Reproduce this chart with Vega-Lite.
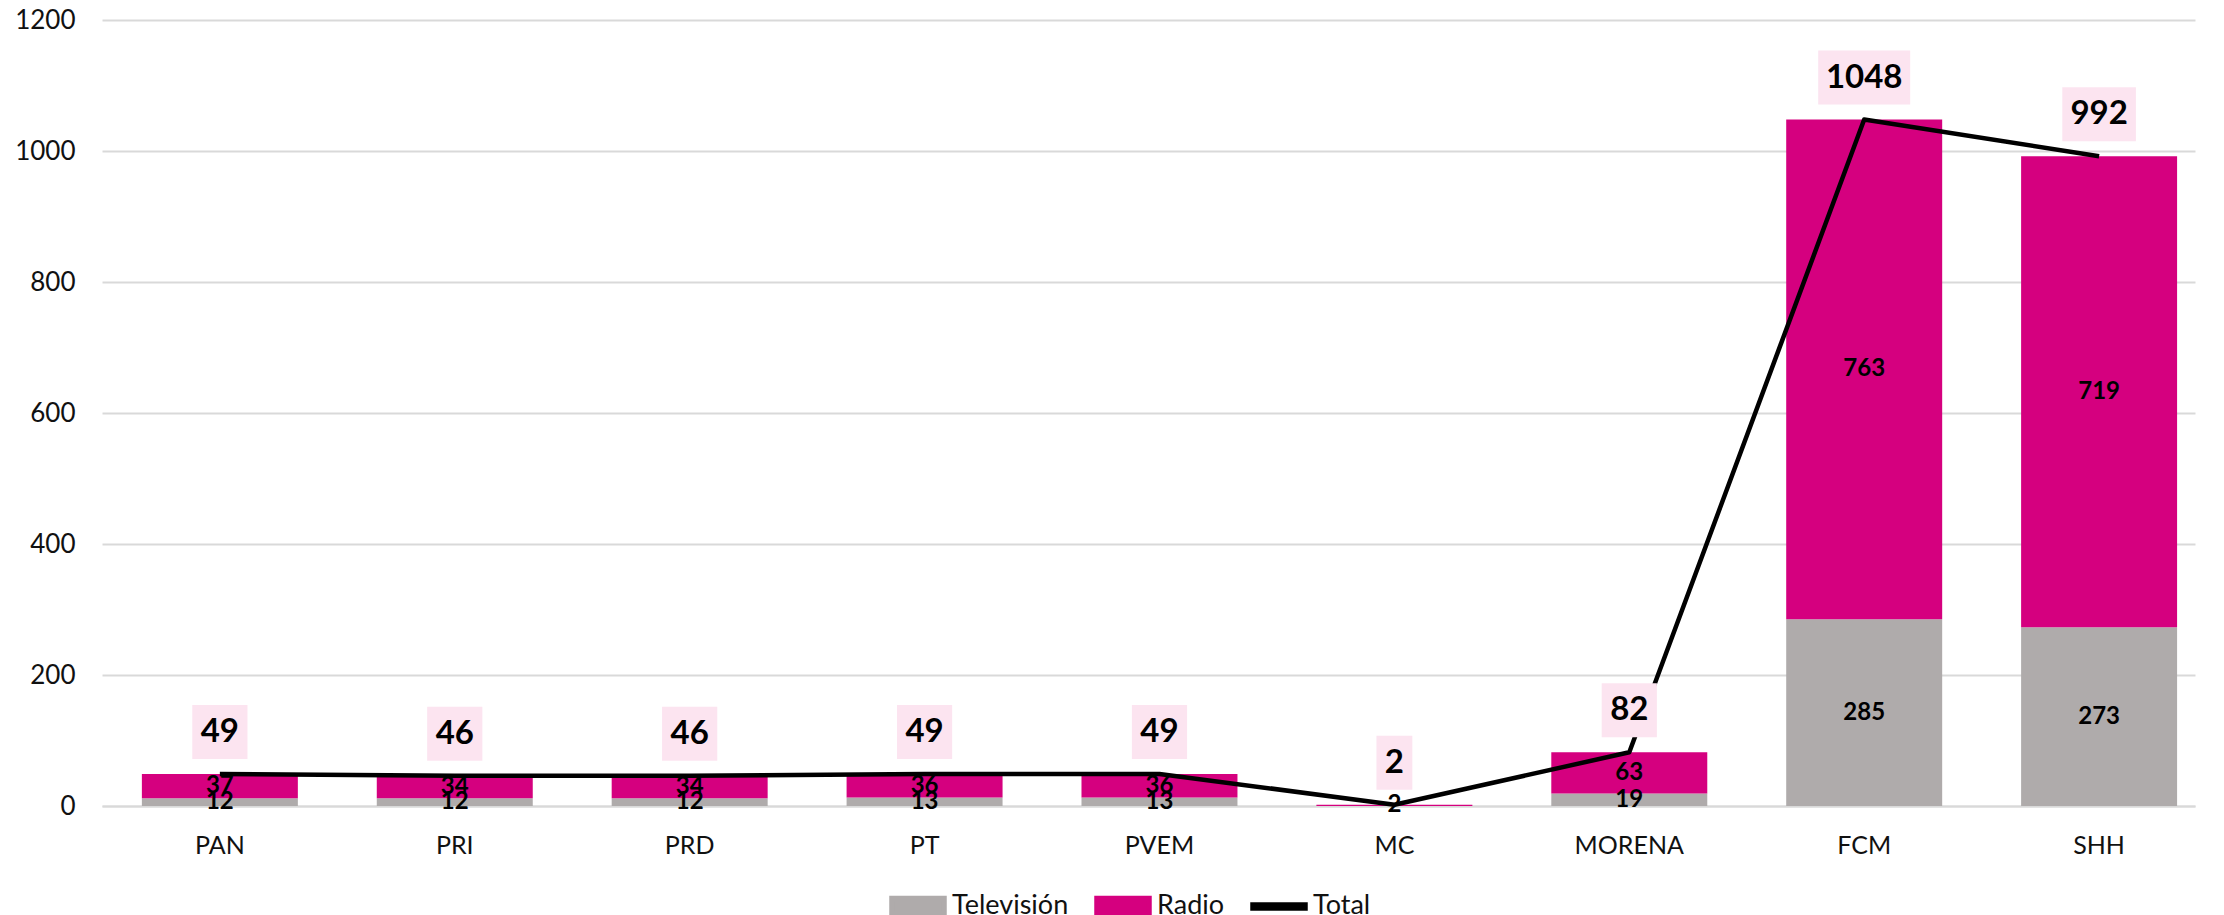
{
  "$schema": "https://vega.github.io/schema/vega-lite/v6.json",
  "autosize": {"type": "none"},
  "width": 2093,
  "height": 786,
  "padding": {"left": 102, "top": 20, "right": 29, "bottom": 109},
  "background": "white",
  "config": {
    "font": "Lato",
    "view": {"stroke": null}
  },
  "datasets": {
    "parties": [
      {"partido": "PAN", "Televisión": 12, "Radio": 37, "Total": 49},
      {"partido": "PRI", "Televisión": 12, "Radio": 34, "Total": 46},
      {"partido": "PRD", "Televisión": 12, "Radio": 34, "Total": 46},
      {"partido": "PT", "Televisión": 13, "Radio": 36, "Total": 49},
      {"partido": "PVEM", "Televisión": 13, "Radio": 36, "Total": 49},
      {"partido": "MC", "Televisión": 0, "Radio": 2, "Total": 2},
      {"partido": "MORENA", "Televisión": 19, "Radio": 63, "Total": 82},
      {"partido": "FCM", "Televisión": 285, "Radio": 763, "Total": 1048},
      {"partido": "SHH", "Televisión": 273, "Radio": 719, "Total": 992}
    ]
  },
  "data": {"name": "parties"},
  "encoding": {
    "x": {
      "field": "partido",
      "type": "nominal",
      "sort": null,
      "scale": {"paddingInner": 0.336, "paddingOuter": 0.123, "align": 0.69},
      "axis": {
        "title": null,
        "labelAngle": 0,
        "labelFontSize": 25,
        "labelColor": "#111111",
        "labelPadding": 27,
        "ticks": false,
        "domainColor": "#D9D9D9",
        "domainWidth": 2
      }
    }
  },
  "layer": [
    {
      "transform": [
        {"fold": ["Televisión", "Radio"], "as": ["medio", "valor"]},
        {"stack": "valor", "groupby": ["partido"], "sort": [{"field": "medio", "order": "descending"}], "as": ["v0", "v1"]}
      ],
      "mark": {"type": "bar"},
      "encoding": {
        "y": {
          "field": "v0",
          "type": "quantitative",
          "scale": {"domain": [0, 1200]},
          "axis": {
            "title": null,
            "values": [0, 200, 400, 600, 800, 1000, 1200],
            "format": "d",
            "labelFontSize": 26,
            "labelColor": "#111111",
            "labelPadding": 27,
            "ticks": false,
            "domain": false,
            "gridColor": "#D9D9D9",
            "gridWidth": 2
          }
        },
        "y2": {"field": "v1"},
        "color": {
          "field": "medio",
          "type": "nominal",
          "scale": {"domain": ["Televisión", "Radio", "Total"], "range": ["#AFABAB", "#D5007F", "#000000"]},
          "legend": {
            "title": null,
            "orient": "none",
            "legendX": 787,
            "legendY": 857,
            "direction": "horizontal",
            "padding": 0,
            "labelFontSize": 27,
            "labelColor": "#111111",
            "labelOffset": 5,
            "columnPadding": 17,
            "symbolSize": 2704,
            "encode": {
              "symbols": {
                "update": {
                  "shape": {"signal": "datum.value === 'Total' ? 'M-1,-0.31M1,0.31M-1,-0.055H1V0.055H-1Z' : 'M-1,-0.31H1V0.31H-1Z'"},
                  "fill": {"signal": "datum.value === 'Televisión' ? '#AFABAB' : datum.value === 'Radio' ? '#D5007F' : '#000000'"},
                  "stroke": {"value": "transparent"},
                  "strokeWidth": {"value": 5.5},
                  "opacity": {"value": 1}
                }
              }
            }
          }
        }
      }
    },
    {
      "mark": {"type": "line", "strokeWidth": 4.5, "strokeJoin": "round"},
      "encoding": {
        "y": {"field": "Total", "type": "quantitative"},
        "color": {"datum": "Total"}
      }
    },
    {
      "mark": {"type": "point", "filled": true, "fill": "#FCE4F0", "opacity": 1, "size": 8464, "yOffset": -42, "strokeWidth": 0},
      "encoding": {
        "y": {"field": "Total", "type": "quantitative"},
        "shape": {
          "field": "Total",
          "type": "nominal",
          "scale": {
            "domain": [2, 46, 49, 82, 992, 1048],
            "range": ["M-0.39,-0.587H0.39V0.587H-0.39Z", "M-0.6,-0.587H0.6V0.587H-0.6Z", "M-0.6,-0.587H0.6V0.587H-0.6Z", "M-0.6,-0.587H0.6V0.587H-0.6Z", "M-0.8,-0.587H0.8V0.587H-0.8Z", "M-1,-0.587H1V0.587H-1Z"]
          },
          "legend": null
        }
      }
    },
    {
      "mark": {"type": "text", "fontSize": 33, "fontWeight": "bold", "color": "#000000", "yOffset": -42, "baseline": "middle"},
      "encoding": {
        "y": {"field": "Total", "type": "quantitative"},
        "text": {"field": "Total", "type": "quantitative"}
      }
    },
    {
      "transform": [
        {"fold": ["Televisión", "Radio"], "as": ["medio", "valor"]},
        {"stack": "valor", "groupby": ["partido"], "sort": [{"field": "medio", "order": "descending"}], "as": ["v0", "v1"]},
        {"filter": "datum.valor > 0"},
        {"fold": ["v0", "v1"], "as": ["extremo", "pos"]},
        {"aggregate": [{"op": "mean", "field": "pos", "as": "mid"}], "groupby": ["partido", "medio", "valor"]}
      ],
      "mark": {"type": "text", "fontSize": 24, "fontWeight": "bold", "color": "#000000", "baseline": "middle"},
      "encoding": {
        "y": {"field": "mid", "type": "quantitative"},
        "text": {"field": "valor", "type": "quantitative"}
      }
    }
  ]
}
